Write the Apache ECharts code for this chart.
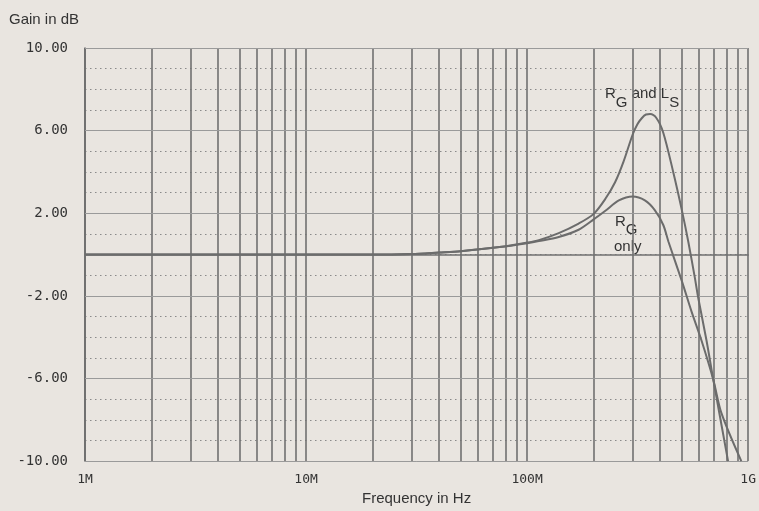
<!DOCTYPE html>
<html>
<head>
<meta charset="utf-8">
<script src="https://cdn.jsdelivr.net/npm/echarts@6/dist/echarts.min.js"></script>
<style>
html,body{margin:0;padding:0;background:#e9e5e0;overflow:hidden;}
#c{width:759px;height:511px;}
</style>
</head>
<body>
<div id="c"></div>
<script>
// Frequencies in MHz
var freqRG = [1, 5, 10, 20, 30, 40, 50, 75, 100, 113, 139, 171, 200, 226, 260, 300, 341, 378, 413, 436, 500, 554, 615, 695, 757, 931];
var gainRG = [0, 0, 0, 0, 0.03, 0.1, 0.16, 0.36, 0.55, 0.65, 0.85, 1.2, 1.7, 2.12, 2.62, 2.81, 2.62, 2.15, 1.43, 0.62, -1.25, -2.75, -4.16, -6.05, -7.68, -10];
var freqRGLS = [1, 5, 10, 20, 30, 40, 50, 75, 100, 113, 139, 171, 200, 226, 250, 273, 300, 315, 330, 345, 360, 385, 413, 458, 500, 536, 574, 594, 648, 695, 811];
var gainRGLS = [0, 0, 0, 0, 0.03, 0.1, 0.16, 0.36, 0.58, 0.7, 1.04, 1.5, 1.97, 2.7, 3.5, 4.5, 5.8, 6.3, 6.6, 6.78, 6.8, 6.6, 5.9, 4.0, 2.2, 0.62, -1.13, -2.08, -4.16, -6.04, -10];
var xTickLabels = {6: '1M', 7: '10M', 8: '100M', 9: '1G'};
var minorFreqs = [2e6,3e6,4e6,5e6,6e6,7e6,8e6,9e6,2e7,3e7,4e7,5e7,6e7,7e7,8e7,9e7,2e8,3e8,4e8,5e8,6e8,7e8,8e8,9e8];
var majorGains = [-10, -6, -2, 2, 6, 10];

function pairs(f, g){ return f.map(function(v,i){ return [v*1e6, g[i]]; }); }

var chart = echarts.init(document.getElementById('c'));
var lineColor = '#6c6c6c';
var monoFont = 'DejaVu Sans Mono';
var option = {
  backgroundColor: '#e9e5e0',
  animation: false,
  grid: {left: 85, width: 665, top: 48, height: 417},
  xAxis: {
    type: 'log', logBase: 10, min: 1e6, max: 1e9,
    axisLine: {show: true, lineStyle: {color: '#707070', width: 1.6}},
    axisTick: {show: false},
    splitLine: {show: true, lineStyle: {color: '#707070', width: 1.6}},
    axisLabel: {
      color: '#333', fontFamily: monoFont, fontSize: 13, margin: 12,
      formatter: function(v){ return xTickLabels[Math.round(Math.log10(v))] || ''; }
    },
    name: 'Frequency in Hz', nameLocation: 'middle', nameGap: 29,
    nameTextStyle: {color: '#333', fontFamily: 'Liberation Sans', fontSize: 15}
  },
  yAxis: {
    type: 'value', min: -10, max: 10, interval: 1,
    axisLine: {show: true, lineStyle: {color: '#707070', width: 1.6}},
    axisTick: {show: false},
    splitLine: {show: true, lineStyle: {color: '#8a8a8a', width: 1.2, type: [1.5, 3.5]}},
    axisLabel: {
      color: '#333', fontFamily: monoFont, fontSize: 14, margin: 17,
      formatter: function(v){ return ((Math.round(v) + 10) % 4 === 0) ? v.toFixed(2) : ''; }
    }
  },
  graphic: [
    {type: 'text', left: 9, top: 12, style: {text: 'Gain in dB', fill: '#333', font: '15px "Liberation Sans"'}},
    {type: 'text', left: 605, top: 86, style: {
      text: '{r|R}{s|G}{r| and L}{s|S}',
      rich: {
        r: {fill: '#333', font: '15px "Liberation Sans"', verticalAlign: 'top'},
        s: {fill: '#333', font: '15px "Liberation Sans"', padding: [9, 0, 0, 0], verticalAlign: 'top'}
      }
    }},
    {type: 'text', left: 615, top: 214, style: {
      text: '{r|R}{s|G}',
      rich: {
        r: {fill: '#333', font: '15px "Liberation Sans"', verticalAlign: 'top'},
        s: {fill: '#333', font: '15px "Liberation Sans"', padding: [8, 0, 0, 0], verticalAlign: 'top'}
      }
    }},
    {type: 'text', left: 614, top: 239, style: {text: 'only', fill: '#333', font: '15px "Liberation Sans"'}}
  ],
  series: [
    {
      name: 'RG only', type: 'line', data: pairs(freqRG, gainRG),
      showSymbol: false, smooth: 0.3, z: 5,
      lineStyle: {color: lineColor, width: 2},
      markLine: {
        silent: true, symbol: ['none', 'none'], label: {show: false},
        lineStyle: {color: '#707070', width: 1.6, type: 'solid'},
        data: minorFreqs.map(function(f){ return {xAxis: f}; })
      }
    },
    {
      name: 'RG and LS', type: 'line', data: pairs(freqRGLS, gainRGLS),
      showSymbol: false, smooth: 0.3, z: 5,
      lineStyle: {color: lineColor, width: 2},
      markLine: {
        silent: true, symbol: ['none', 'none'], label: {show: false},
        lineStyle: {color: '#9a9a9a', width: 1, type: 'solid'},
        data: majorGains.map(function(g){ return {yAxis: g}; })
      }
    }
  ]
};
chart.setOption(option);
</script>
</body>
</html>
